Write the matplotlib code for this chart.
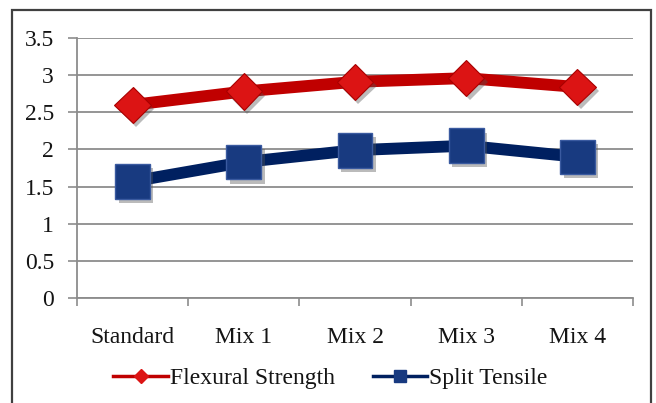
"""Flexural strength and split tensile strength for the standard mix and four trial mixes."""

import matplotlib

matplotlib.use("Agg")

import matplotlib.patheffects as pe
import matplotlib.pyplot as plt
from matplotlib.lines import Line2D
from matplotlib.patches import Rectangle

mixes = ["Standard", "Mix 1", "Mix 2", "Mix 3", "Mix 4"]
flexural_strength = [2.60, 2.78, 2.91, 2.96, 2.84]
split_tensile = [1.57, 1.83, 1.99, 2.05, 1.90]
y_ticks = [0, 0.5, 1, 1.5, 2, 2.5, 3, 3.5]

RED_LINE = "#c00000"
RED_MARK = "#dc1414"
BLUE_LINE = "#002060"
BLUE_MARK = "#183a80"
GRID = "#8c8c8c"


def main() -> None:
    plt.rcParams["font.family"] = ["Liberation Serif", "DejaVu Serif"]
    plt.rcParams["font.size"] = 17
    plt.rcParams["text.color"] = "#141414"

    fig = plt.figure(figsize=(6.56, 4.03), dpi=100)
    ax = fig.add_axes([0.1174, 0.2605, 0.8476, 0.6452])

    x = list(range(len(mixes)))
    shadow = [pe.SimplePatchShadow(offset=(2.5, -3), shadow_rgbFace="#555555", alpha=0.4), pe.Normal()]

    ax.plot(x, flexural_strength, color=RED_LINE, lw=8.5, solid_capstyle="butt", zorder=3)
    ax.plot(x, split_tensile, color=BLUE_LINE, lw=8.5, solid_capstyle="butt", zorder=3)
    ax.plot(x, flexural_strength, ls="none", marker="D", ms=18.5, mfc=RED_MARK,
            mec="#a80000", mew=0.8, zorder=4, path_effects=shadow)
    ax.plot(x, split_tensile, ls="none", marker="s", ms=25, mfc=BLUE_MARK,
            mec="#3a5aa0", mew=1.0, zorder=4, path_effects=shadow)

    ax.set_xlim(-0.5, len(mixes) - 0.5)
    ax.set_ylim(0, 3.5)
    ax.set_yticks(y_ticks)
    ax.set_yticklabels([f"{v:g}" for v in y_ticks])
    ax.yaxis.grid(True, color=GRID, lw=1.3)
    ax.set_axisbelow(True)

    # category boundaries carry the tick marks, names sit between them
    ax.set_xticks([i - 0.5 for i in range(len(mixes) + 1)])
    ax.set_xticklabels([])
    ax.set_xticks(x, minor=True)
    ax.set_xticklabels(mixes, minor=True)
    ax.tick_params(axis="x", which="major", length=6, width=1.2, color=GRID, direction="out")
    ax.tick_params(axis="x", which="minor", length=0, pad=21, labelcolor="#141414")
    ax.tick_params(axis="y", length=6.5, width=1.2, color=GRID, pad=10, labelcolor="#141414")

    for side in ("top", "right"):
        ax.spines[side].set_visible(False)
    for side in ("left", "bottom"):
        ax.spines[side].set_color(GRID)
        ax.spines[side].set_linewidth(1.3)

    handles = [
        Line2D([], [], color=RED_LINE, lw=2.5, marker="D", ms=7, mfc=RED_MARK, mec=RED_MARK),
        Line2D([], [], color=BLUE_LINE, lw=2.5, marker="s", ms=8.5, mfc=BLUE_MARK, mec=BLUE_MARK),
    ]
    fig.legend(handles, ["Flexural Strength", "Split Tensile"], loc="center",
               bbox_to_anchor=(0.504, 0.062), ncol=2, frameon=False,
               handlelength=2.3, handletextpad=0.1, columnspacing=1.6)

    fig.add_artist(Rectangle((12 / 656, -0.05), 639 / 656, 1.05 - 10 / 403,
                             transform=fig.transFigure, fill=False, ec="#404040", lw=1.6))

    fig.savefig("out.png", dpi=100)
    plt.close(fig)


if __name__ == "__main__":
    main()
